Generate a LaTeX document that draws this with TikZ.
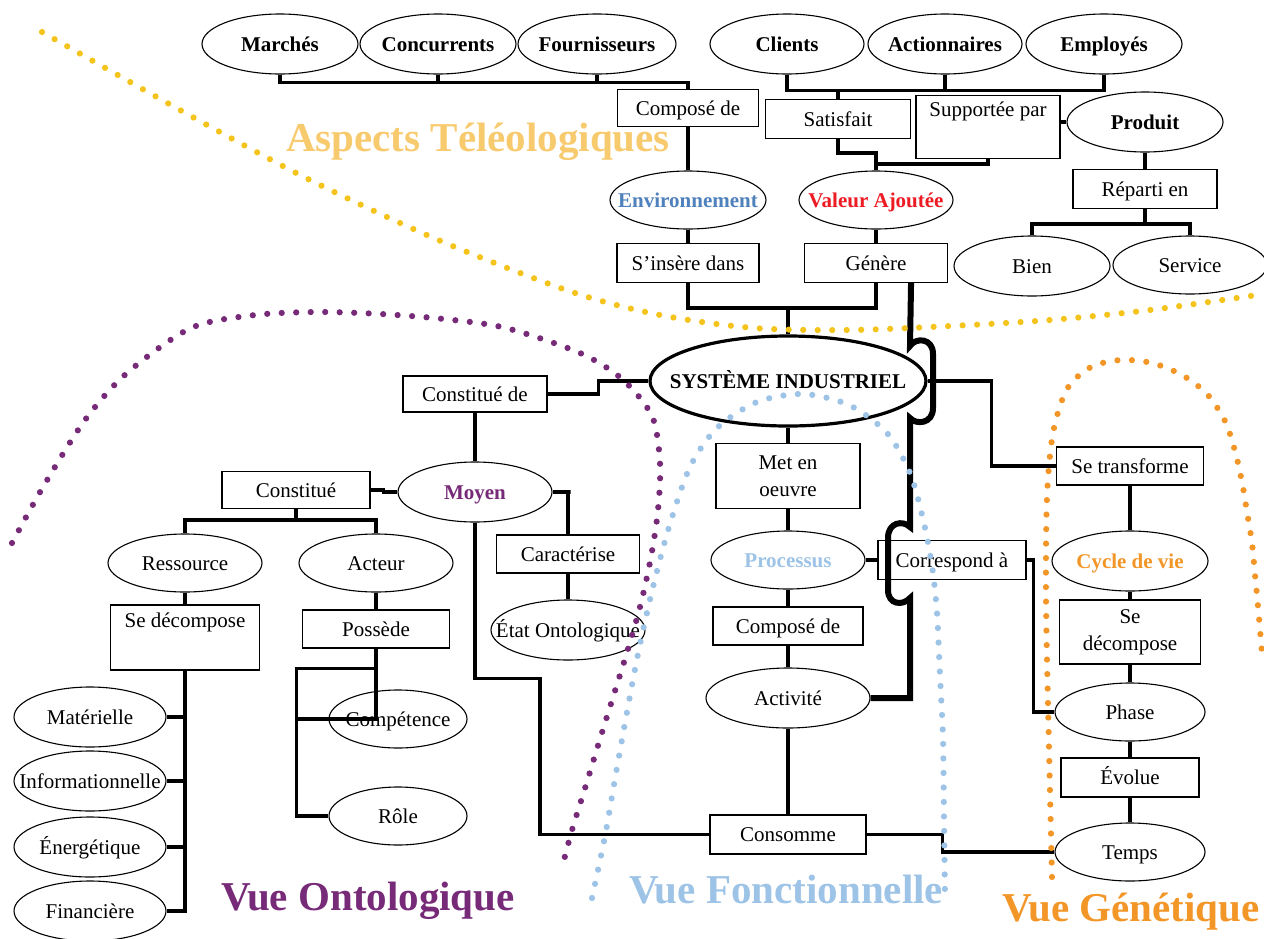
\documentclass[tikz,border=0pt]{standalone}
\usepackage{fontspec}
\setmainfont{Liberation Serif}
\usetikzlibrary{shapes.geometric,calc}
\definecolor{dotyellow}{RGB}{245,196,28}
\definecolor{teleyellow}{RGB}{248,202,110}
\definecolor{ontopurple}{RGB}{118,42,120}
\definecolor{fctblue}{RGB}{157,195,230}
\definecolor{genorange}{RGB}{243,150,40}
\definecolor{envblue}{RGB}{79,129,189}
\definecolor{valred}{RGB}{237,28,36}
\newcommand{\zw}[1]{\makebox[0pt]{#1}}
\begin{document}
\begin{tikzpicture}[x=1pt,y=-1pt,
 ell/.style={ellipse, draw, line width=1.1pt, inner sep=0pt, text height=16pt, text depth=2pt, font=\fontsize{21}{27}\selectfont},
 bell/.style={ell, font=\fontsize{21}{27}\selectfont\bfseries},
 box/.style={rectangle, draw, line width=1.1pt, inner sep=0pt, align=center, font=\fontsize{21}{27}\selectfont},
 one/.style={text height=16pt, text depth=2pt},
 sz/.style 2 args={minimum width=#1, minimum height=#2},
 conn/.style={line width=3.7pt},
 heavy/.style={line width=6pt},
 dots/.style={line width=6.2pt, line cap=round, dash pattern=on 0pt off 14.5pt},
 big/.style={font=\fontsize{41}{45}\selectfont\bfseries, inner sep=0pt}
]
\fill[white] (0,0) rectangle (1264,938);
\useasboundingbox (0,0) rectangle (1264,938);

% ---------- top row
\node[bell,sz={156}{60}] (marches) at (280,44) {\zw{Marchés}};
\node[bell,sz={156}{60}] (concur) at (438,44) {\zw{Concurrents}};
\node[bell,sz={158}{60}] (fourn) at (597,44) {\zw{Fournisseurs}};
\node[bell,sz={154}{60}] (clients) at (787,44) {\zw{Clients}};
\node[bell,sz={154}{60}] (action) at (945,44) {\zw{Actionnaires}};
\node[bell,sz={156}{60}] (employes) at (1104,44) {\zw{Employés}};

\node[box,one,sz={141}{37}] (compose1) at (688,108) {Composé de};
\node[box,one,sz={145}{39}] (satisfait) at (838,119) {Satisfait};
\node[box,sz={144}{63}] (supportee) at (988,127) {Supportée par\\\strut};
\node[bell,sz={156}{60}] (produit) at (1145,122) {\zw{Produit}};

\node[bell,sz={156}{58},text=envblue] (environ) at (688,200) {\zw{Environnement}};
\node[bell,sz={154}{58},text=valred] (valeur) at (876,200) {\zw{Valeur Ajoutée}};
\node[box,one,sz={144}{39}] (repart) at (1145,189) {Réparti en};
\node[ell,sz={156}{60}] (bien) at (1032,266) {\zw{Bien}};
\node[ell,sz={154}{58}] (service) at (1190,265) {\zw{Service}};

\node[box,one,sz={142}{39}] (insere) at (688,263) {S’insère dans};
\node[box,one,sz={143}{39}] (genere) at (876,263) {Génère};

% ---------- centre
\node[ellipse, draw, line width=3.2pt, inner sep=0pt, text height=16pt, text depth=2pt, sz={276}{90}, font=\fontsize{21}{27}\selectfont\bfseries] (sys) at (788,381) {\zw{SYSTÈME INDUSTRIEL}};

\node[box,one,sz={144}{36}] (constde) at (475,394) {Constitué de};
\node[bell,sz={154}{60},text=ontopurple] (moyen) at (475,492) {\zw{Moyen}};
\node[box,one,sz={148}{37}] (constitue) at (296,490) {Constitué};
\node[ell,sz={154}{58}] (ressource) at (185,563) {\zw{Ressource}};
\node[ell,sz={154}{58}] (acteur) at (376,563) {\zw{Acteur}};
\node[box,sz={149}{65}] (sedec1) at (185,637.5) {Se décompose\\\strut};
\node[box,one,sz={147}{38}] (possede) at (376,629) {Possède};
\node[ell,sz={152}{60}] (materielle) at (90,717) {\zw{Matérielle}};
\node[ell,sz={152}{60}] (info) at (90,781) {\zw{Informationnelle}};
\node[ell,sz={152}{60}] (energ) at (90,847) {\zw{Énergétique}};
\node[ell,sz={152}{60}] (financ) at (90,911) {\zw{Financière}};
\node[ell,sz={138}{58}] (competence) at (398,719) {\zw{Compétence}};
\node[ell,sz={138}{58}] (role) at (398,816) {\zw{Rôle}};
\node[box,one,sz={143}{38}] (caract) at (568,554) {Caractérise};
\node[ell,sz={154}{60}] (etat) at (568,630) {\zw{État Ontologique}};

\node[box,sz={144}{65}] (metoeuvre) at (788,476) {Met en\\oeuvre};
\node[bell,sz={154}{58},text=fctblue] (processus) at (788,560) {\zw{Processus}};
\node[box,one,sz={150}{38}] (compose2) at (788,626) {Composé de};
\node[ell,sz={164}{60}] (activite) at (788,698) {\zw{Activité}};
\node[box,one,sz={148}{39}] (correspond) at (952,560) {Correspond à};
\node[box,one,sz={156}{39}] (consomme) at (788,834.5) {Consomme};

\node[box,one,sz={147}{38}] (setrans) at (1130,466) {Se transforme};
\node[bell,sz={156}{60},text=genorange] (cycle) at (1130,561) {\zw{Cycle de vie}};
\node[box,sz={141}{64}] (sedec2) at (1130,632) {Se\\décompose};
\node[ell,sz={150}{58}] (phase) at (1130,712) {\zw{Phase}};
\node[box,one,sz={138}{39}] (evolue) at (1130,777.5) {Évolue};
\node[ell,sz={150}{58}] (temps) at (1130,852) {\zw{Temps}};

% ---------- connectors (top)
\draw[conn] (marches.south) -- ++(0,8) -| (compose1.north);
\draw[conn] (concur.south) -- ++(0,8);
\draw[conn] (fourn.south) -- ++(0,8);
\draw[conn] (compose1.south) -- (environ.north);
\draw[conn] (clients.south) -- ++(0,16) -| (employes.south);
\draw[conn] (action.south) -- ++(0,16);
\draw[conn] (satisfait.north) -- ++(0,-10);
\draw[conn] (satisfait.south) -- ++(0,14) -| (valeur.north);
\draw[conn] (supportee.south) -- ++(0,5) -| (valeur.north);
\draw[conn] (supportee.east |- produit.west) -- (produit.west);
\draw[conn] (produit.south) -- (repart.north);
\draw[conn] (repart.south) -- ++(0,15) -| (bien.north);
\draw[conn] (repart.south) -- ++(0,15) -| (service.north);
\draw[conn] (environ.south) -- (insere.north);
\draw[conn] (valeur.south) -- (genere.north);
\draw[conn] (insere.south) -- ++(0,25) -| (genere.south);
\draw[conn] (sys.north) -- ++(0,-27);

% heavy link Génère -> Activité with hops
\draw[heavy] ($(genere.south east)+(-37,0)$) -- (910,346)
  .. controls (916,337) and (933,338) .. (933,354) -- (933,408)
  .. controls (933,424) and (916,425) .. (910,418) -- (910,527)
  .. controls (903,520) and (888,522) .. (888,538) -- (888,590)
  .. controls (888,605) and (903,606) .. (910,598) |- (activite.east);

% ---------- connectors (centre / right)
\draw[conn] (sys.east) -- ++(64,0) |- (setrans.west);
\draw[conn] (sys.south) -- (metoeuvre.north);
\draw[conn] (metoeuvre.south) -- (processus.north);
\draw[conn] (processus.south) -- (compose2.north);
\draw[conn] (compose2.south) -- (activite.north);
\draw[conn] (processus.east) -- (correspond.west);
\draw[conn] (correspond.east) -- ++(7,0) |- (phase.west);
\draw[conn] (activite.south) -- (consomme.north);
\draw[conn] (consomme.east) -- ++(76,0) |- (temps.west);
\draw[conn] (setrans.south) -- (cycle.north);
\draw[conn] (cycle.south) -- (sedec2.north);
\draw[conn] (sedec2.south) -- (phase.north);
\draw[conn] (phase.south) -- (evolue.north);
\draw[conn] (evolue.south) -- (temps.north);

% ---------- connectors (left)
\draw[conn] (sys.west) -- ++(-50,0) |- (constde.east);
\draw[conn] (constde.south) -- (moyen.north);
\draw[conn] (moyen.west) -- ++(-14,0) |- (constitue.east);
\draw[conn] (constitue.south) -- ++(0,11) -| (ressource.north);
\draw[conn] (constitue.south) -- ++(0,11) -| (acteur.north);
\draw[conn] (ressource.south) -- (sedec1.north);
\draw[conn] (acteur.south) -- (possede.north);
\draw[conn] (sedec1.south) |- (financ.east);
\draw[conn] (materielle.east) -- (materielle.east -| sedec1.south);
\draw[conn] (info.east) -- (info.east -| sedec1.south);
\draw[conn] (energ.east) -- (energ.east -| sedec1.south);
\draw[conn] (possede.south) |- ($(competence.west)+(-32,0)$);
\draw[conn] (possede.south) -- ++(0,20) -| ($(role.west)+(-32,0)$) |- (role.west);
\draw[conn] (moyen.east) -- ++(18,0) -| (caract.north);
\draw[conn] (caract.south) -- (etat.north);
\draw[conn] (moyen.south) -- ++(0,156) -- ++(65,0) |- (consomme.west);

% ---------- titles
\node[big, text=teleyellow] (tele) at (478,142) {Aspects Téléologiques};
\node[big, text=ontopurple] (onto) at (368,901) {Vue Ontologique};
\node[big, text=fctblue] (fonc) at (786,890) {Vue Fonctionnelle};
\node[big, text=genorange] (gene) at (1131,912) {Vue Génétique};

% ---------- dotted boundaries
\draw[dots, dotyellow] plot[smooth] coordinates {(42,32) (180,110) (306,178) (436,239) (569,291) (660,315) (754,328) (850,330) (950,326) (1050,320) (1150,310) (1264,294)};
\draw[dots, ontopurple] plot[smooth] coordinates {(12,543) (43,487) (85,420) (127,373) (191,328) (255,315) (318,312) (381,314) (444,319) (506,328) (580,353) (622,379) (652,416) (660,463) (658,510) (651,557) (641,603) (628,649) (614,694) (600,739) (586,785) (572,830) (564,860)};
\draw[dots, fctblue] plot[smooth] coordinates {(592,898) (605,836) (616,773) (627,712) (639,649) (653,587) (669,527) (690,467) (717,428) (757,402) (803,394) (849,405) (887,433) (910,473) (923,519) (932,566) (937,613) (940,676) (943,738) (944,820) (945,898)};
\draw[dots, genorange] plot[smooth] coordinates {(1052,877) (1049,748) (1046,600) (1047,497) (1053,433) (1067,389) (1091,367) (1121,360) (1152,363) (1182,375) (1207,394) (1225,421) (1235,451) (1242,482) (1247,512) (1252,543) (1255,575) (1258,606) (1262,653)};
\end{tikzpicture}
\end{document}
